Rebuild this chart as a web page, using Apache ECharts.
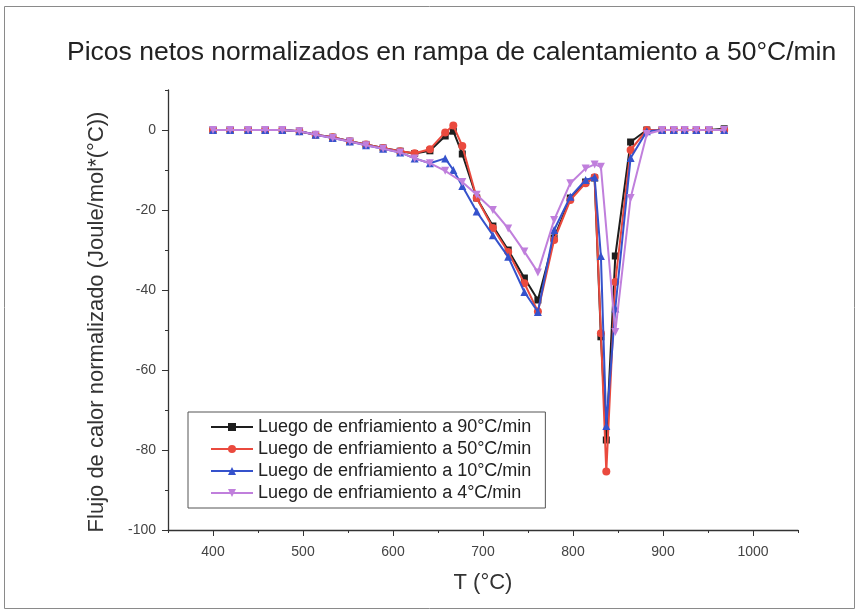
<!DOCTYPE html>
<html>
<head>
<meta charset="utf-8">
<script src="https://cdn.jsdelivr.net/npm/echarts@6/dist/echarts.min.js"></script>
<style>
html,body{margin:0;padding:0;background:#fff;}
#chart{width:859px;height:614px;}
</style>
</head>
<body>
<div id="chart"></div>
<script>
// ---- data ----
const titleText = 'Picos netos normalizados en rampa de calentamiento a 50°C/min';
const seriesNames = [
  'Luego de enfriamiento a 90°C/min',
  'Luego de enfriamiento a 50°C/min',
  'Luego de enfriamiento a 10°C/min',
  'Luego de enfriamiento a 4°C/min'
];
const tempA = [400, 419, 439, 458, 477, 496, 514, 533, 552, 570, 589, 608, 624, 641, 658, 667, 677, 693, 711, 728, 746, 761, 779, 797, 814, 824, 831, 837, 847, 864, 882, 899, 912, 924, 937, 951, 968];
const flow90 = [0, 0, 0, 0, 0, -0.3, -1.2, -1.8, -2.8, -3.6, -4.5, -5.3, -5.9, -5.2, -1.5, -0.3, -6, -17, -24, -30, -37, -42.5, -27, -17, -13, -12, -51.7, -77.5, -31.5, -3, 0, 0, 0, 0, 0, 0, 0.3];
const flow50 = [0, 0, 0, 0, 0, -0.3, -1.2, -1.8, -2.8, -3.6, -4.5, -5.3, -5.8, -4.8, -0.6, 1.1, -4, -17, -24.5, -30.5, -38.3, -45.4, -27.5, -17.5, -13.3, -11.8, -50.8, -85.4, -38, -5, 0, 0, 0, 0, 0, 0, 0];
const flow10 = [0, 0, 0, 0, 0, -0.3, -1.2, -2, -2.9, -3.8, -4.7, -5.6, -7.1, -8.3, -7.1, -10, -14, -20.4, -26.3, -31.7, -40.5, -45.5, -25, -16.7, -12.5, -11.8, -31.5, -74, -44.6, -7, -0.3, 0, 0, 0, 0, 0, 0];
const tempP = [400, 419, 439, 458, 477, 496, 514, 533, 552, 570, 589, 608, 624, 641, 658, 677, 693, 711, 728, 746, 761, 779, 797, 814, 824, 831, 847, 864, 882, 899, 912, 924, 937, 951, 968];
const flow4 = [0, 0, 0, 0, 0, -0.3, -1.2, -2, -2.9, -3.8, -4.7, -5.6, -7.1, -8.3, -10.2, -13, -16.2, -20, -24.6, -30.4, -35.6, -22.5, -13.3, -9.6, -8.6, -9.2, -50.5, -17, -1, 0, 0, 0, 0, 0, 0];
const xTickLabels = [400, 500, 600, 700, 800, 900, 1000];
const yTickLabels = [-100, -80, -60, -40, -20, 0];

// ---- chart ----
const FONT = '"Liberation Sans", Arial, sans-serif';
const colors = ['#1e1e1e', '#ea4a3e', '#3552cc', '#c07fdc'];
const symbols = ['rect', 'circle', 'triangle', 'path://M0,0 L10,0 L5,9 Z'];
const xs = [tempA, tempA, tempA, tempP];
const ys = [flow90, flow50, flow10, flow4];

const chart = echarts.init(document.getElementById('chart'), null, {renderer: 'canvas'});
const series = seriesNames.map((n, i) => ({
  name: n,
  type: 'line',
  xAxisIndex: 0,
  yAxisIndex: 0,
  data: xs[i].map((t, k) => [t, ys[i][k]]),
  symbol: symbols[i],
  symbolSize: i === 0 ? 7 : 8,
  lineStyle: {color: colors[i], width: 2},
  itemStyle: {color: colors[i]},
  z: 2 + i
}));

const option = {
  animation: false,
  backgroundColor: '#fff',
  graphic: [{
    type: 'rect', shape: {x: 4.5, y: 6.5, width: 850, height: 602},
    style: {fill: 'none', stroke: '#8a8a8a', lineWidth: 1}, silent: true, z: -1
  }],
  title: {
    text: titleText, left: 62, top: 34,
    textStyle: {fontFamily: FONT, fontSize: 26.5, fontWeight: 'normal', color: '#222'}
  },
  legend: {
    orient: 'vertical', left: 188, top: 412,
    borderColor: '#555', borderWidth: 1, padding: [6, 14, 6, 22],
    itemWidth: 42, itemHeight: 10, itemGap: 4,
    textStyle: {fontFamily: FONT, fontSize: 18, lineHeight: 18, color: '#222'},
    data: seriesNames
  },
  grid: {left: 168, right: 61, top: 90, bottom: 84, containLabel: false},
  xAxis: [{
    type: 'value', min: 350, max: 1050, interval: 50,
    name: 'T (°C)', nameLocation: 'middle', nameGap: 42,
    nameTextStyle: {fontFamily: FONT, fontSize: 22, color: '#333'},
    axisLine: {onZero: false, lineStyle: {color: '#333', width: 1.3}},
    axisTick: {show: true, length: 3, lineStyle: {color: '#333'}},
    axisLabel: {
      fontFamily: FONT, fontSize: 14, color: '#444', margin: 15,
      formatter: v => (xTickLabels.indexOf(v) >= 0 ? String(v) : '')
    },
    splitLine: {show: false}
  }, {
    type: 'value', min: 350, max: 1050, position: 'bottom',
    axisLine: {show: false, onZero: false},
    axisTick: {show: true, length: 6, customValues: xTickLabels, lineStyle: {color: '#333'}},
    axisLabel: {show: false},
    splitLine: {show: false}
  }],
  yAxis: [{
    type: 'value', min: -100, max: 10, interval: 10,
    name: 'Flujo de calor normalizado (Joule/mol*(°C))', nameLocation: 'middle', nameGap: 60,
    nameRotate: 90,
    nameTextStyle: {fontFamily: FONT, fontSize: 22, color: '#333', padding: [0, 24, 0, 0]},
    axisLine: {show: true, onZero: false, lineStyle: {color: '#333', width: 1.3}},
    axisTick: {show: true, length: 3, lineStyle: {color: '#333'}},
    axisLabel: {
      fontFamily: FONT, fontSize: 14, color: '#444', margin: 12,
      formatter: v => (yTickLabels.indexOf(v) >= 0 ? String(v) : '')
    },
    splitLine: {show: false}
  }, {
    type: 'value', min: -100, max: 10, position: 'left',
    axisLine: {show: false, onZero: false},
    axisTick: {show: true, length: 6, customValues: yTickLabels, lineStyle: {color: '#333'}},
    axisLabel: {show: false},
    splitLine: {show: false}
  }],
  series: series
};
chart.setOption(option);
</script>
</body>
</html>
